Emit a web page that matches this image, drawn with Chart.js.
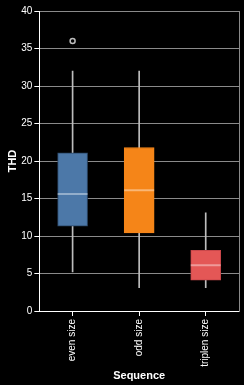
<!DOCTYPE html>
<html><head><meta charset="utf-8">
<script src="https://cdn.jsdelivr.net/npm/chart.js@4"></script>
<style>html,body{margin:0;padding:0;background:#000;overflow:hidden;}#wrap{width:244px;height:385px;overflow:hidden;}#c{display:block;margin-top:-6px;}</style>
</head><body><div id="wrap"><canvas id="c" width="256" height="391"></canvas></div>
<script>
const categories = ['even size', 'odd size', 'triplen size'];
const whiskerLow = [5.2, 3.1, 3.1];
const whiskerHigh = [32, 32, 13.1];
const q1 = [11.3, 10.4, 4.1];
const q3 = [21.1, 21.8, 8.1];
const medians = [15.6, 16.1, 6.1];
const outliers = [36, null, null];
const yTicks = [0, 5, 10, 15, 20, 25, 30, 35, 40];
const boxColors = ['#4c78a8', '#f58518', '#e45756'];
const boxBorders = ['#2b4767', '#f58518', '#c8474a'];

const FONT = "'Liberation Sans', Arial, sans-serif";
Chart.defaults.font.family = FONT;
Chart.defaults.color = '#fff';

new Chart(document.getElementById('c'), {
  type: 'bar',
  data: {
    labels: categories,
    datasets: [
      {
        type: 'bar', label: 'whisker', order: 4, grouped: false,
        data: categories.map((_, i) => [whiskerLow[i], whiskerHigh[i]]),
        backgroundColor: '#bdbdbd', borderWidth: 0, barThickness: 1
      },
      {
        type: 'bar', label: 'box', order: 3, grouped: false,
        data: categories.map((_, i) => [q1[i], q3[i]]),
        backgroundColor: boxColors, borderColor: boxBorders, borderWidth: 1,
        borderSkipped: false, barThickness: 30
      },
      {
        type: 'line', label: 'median', order: 1, showLine: false,
        data: medians,
        pointStyle: 'line', pointRadius: 15, pointHoverRadius: 15,
        pointBorderColor: 'rgba(255,255,255,0.4)', pointBorderWidth: 2
      },
      {
        type: 'line', label: 'outlier', order: 1, showLine: false,
        data: outliers,
        pointStyle: 'circle', pointRadius: 2.5, pointHoverRadius: 2.5,
        pointBorderColor: '#bbb', pointBackgroundColor: 'rgba(0,0,0,0)', pointBorderWidth: 1.5
      }
    ]
  },
  options: {
    responsive: false, animation: false,
    layout: { padding: { top: 0, right: 0, left: 0, bottom: 0 } },
    plugins: { legend: { display: false }, tooltip: { enabled: false } },
    scales: {
      x: {
        offset: true,
        grid: { display: true, drawOnChartArea: false, offset: false, color: '#fff', tickLength: 5 },
        border: { display: true, color: '#fff', width: 1 },
        ticks: { color: '#fff', font: { size: 10 }, maxRotation: 90, minRotation: 90, padding: 3 },
        title: { display: true, text: 'Sequence', color: '#fff', font: { size: 11, weight: 'bold' }, padding: { top: 0, bottom: 2 } }
      },
      y: {
        min: 0, max: 40,
        afterBuildTicks: (s) => { s.ticks = yTicks.map(v => ({ value: v })); },
        grid: { color: '#8a8a8a', tickColor: '#fff', tickLength: 5 },
        border: { display: true, color: '#fff', width: 1 },
        ticks: { color: '#fff', font: { size: 10 }, padding: 2 },
        title: { display: true, text: 'THD', color: '#fff', font: { size: 11, weight: 'bold' }, padding: { top: 6, bottom: 0 } }
      },
      y2: {
        position: 'right', min: 0, max: 40,
        grid: { display: false, drawTicks: false },
        border: { display: true, color: '#8a8a8a', width: 1 },
        ticks: { display: false, padding: 0 },
        afterFit: (s) => { s.width = 0; }
      }
    }
  }
});
</script>
</body></html>
